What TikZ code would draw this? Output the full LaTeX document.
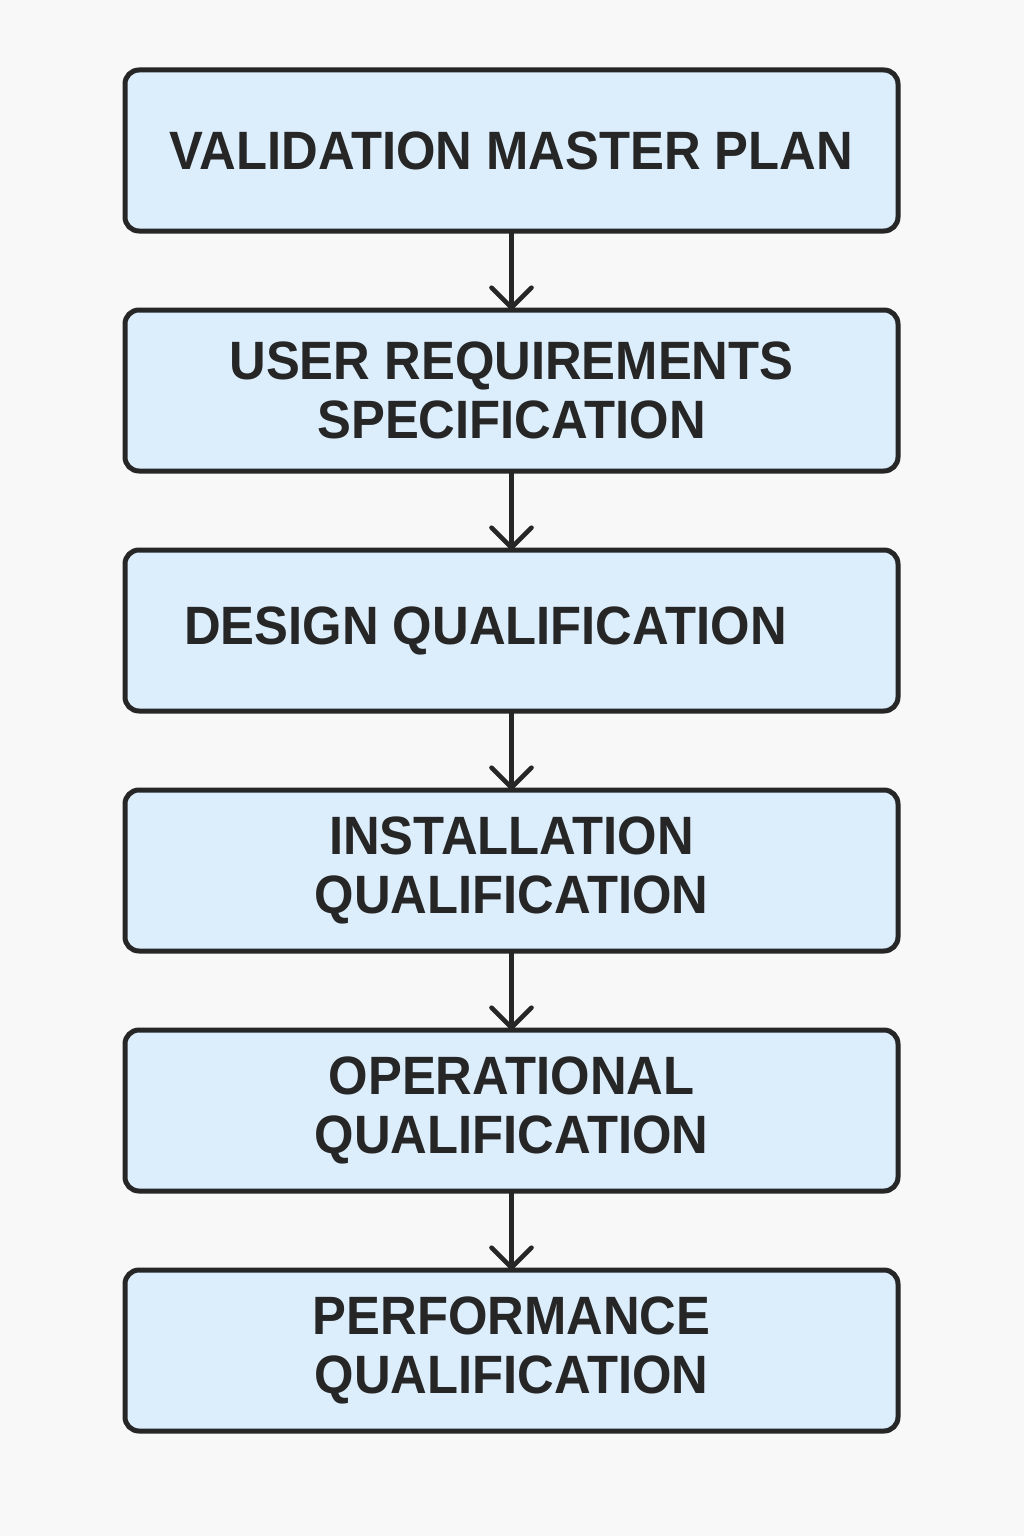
\documentclass[tikz,border=0pt]{standalone}
\usepackage{fontspec}
\setmainfont{Liberation Sans}[FakeStretch=0.94]
\usepackage{tikz}
\usetikzlibrary{calc}
\usetikzlibrary{arrows.meta}
\definecolor{boxfill}{HTML}{DCEEFC}
\definecolor{boxline}{HTML}{262626}
\definecolor{pagebg}{HTML}{F8F8F8}
\tikzstyle{stagebox} = [draw=boxline, fill=boxfill, line width=2.5pt, rounded corners=7pt, minimum width=386.5pt, minimum height=80.5pt, outer sep=0pt, align=center, text=boxline, font=\fontsize{27}{29.5}\selectfont\bfseries]
\tikzstyle{flowarrow} = [draw=boxline, line width=2.3pt, -{Straight Barb[length=10pt,width=20pt,round]}]

\begin{document}
\begin{tikzpicture}
    \fill[pagebg] (0,0) rectangle (512pt,-768pt);
    \useasboundingbox (0,0) rectangle (512pt,-768pt);

    \node[stagebox] (plan_master) at (255.75pt,-75.25pt) {VALIDATION MASTER PLAN};
    \node[stagebox] (req_user) at ($(plan_master)+(0,-120pt)$) {USER REQUIREMENTS\\SPECIFICATION};
    \node[stagebox] (qual_design) at ($(req_user)+(0,-120pt)$) {DESIGN QUALIFICATION\hspace*{26pt}};
    \node[stagebox] (qual_install) at ($(qual_design)+(0,-120pt)$) {INSTALLATION\\QUALIFICATION};
    \node[stagebox] (qual_oper) at ($(qual_install)+(0,-120pt)$) {OPERATIONAL\\QUALIFICATION};
    \node[stagebox] (qual_perf) at ($(qual_oper)+(0,-120pt)$) {PERFORMANCE\\QUALIFICATION};

    \draw[flowarrow] (plan_master) -- (req_user);
    \draw[flowarrow] (req_user) -- (qual_design);
    \draw[flowarrow] (qual_design) -- (qual_install);
    \draw[flowarrow] (qual_install) -- (qual_oper);
    \draw[flowarrow] (qual_oper) -- (qual_perf);
\end{tikzpicture}
\end{document}
